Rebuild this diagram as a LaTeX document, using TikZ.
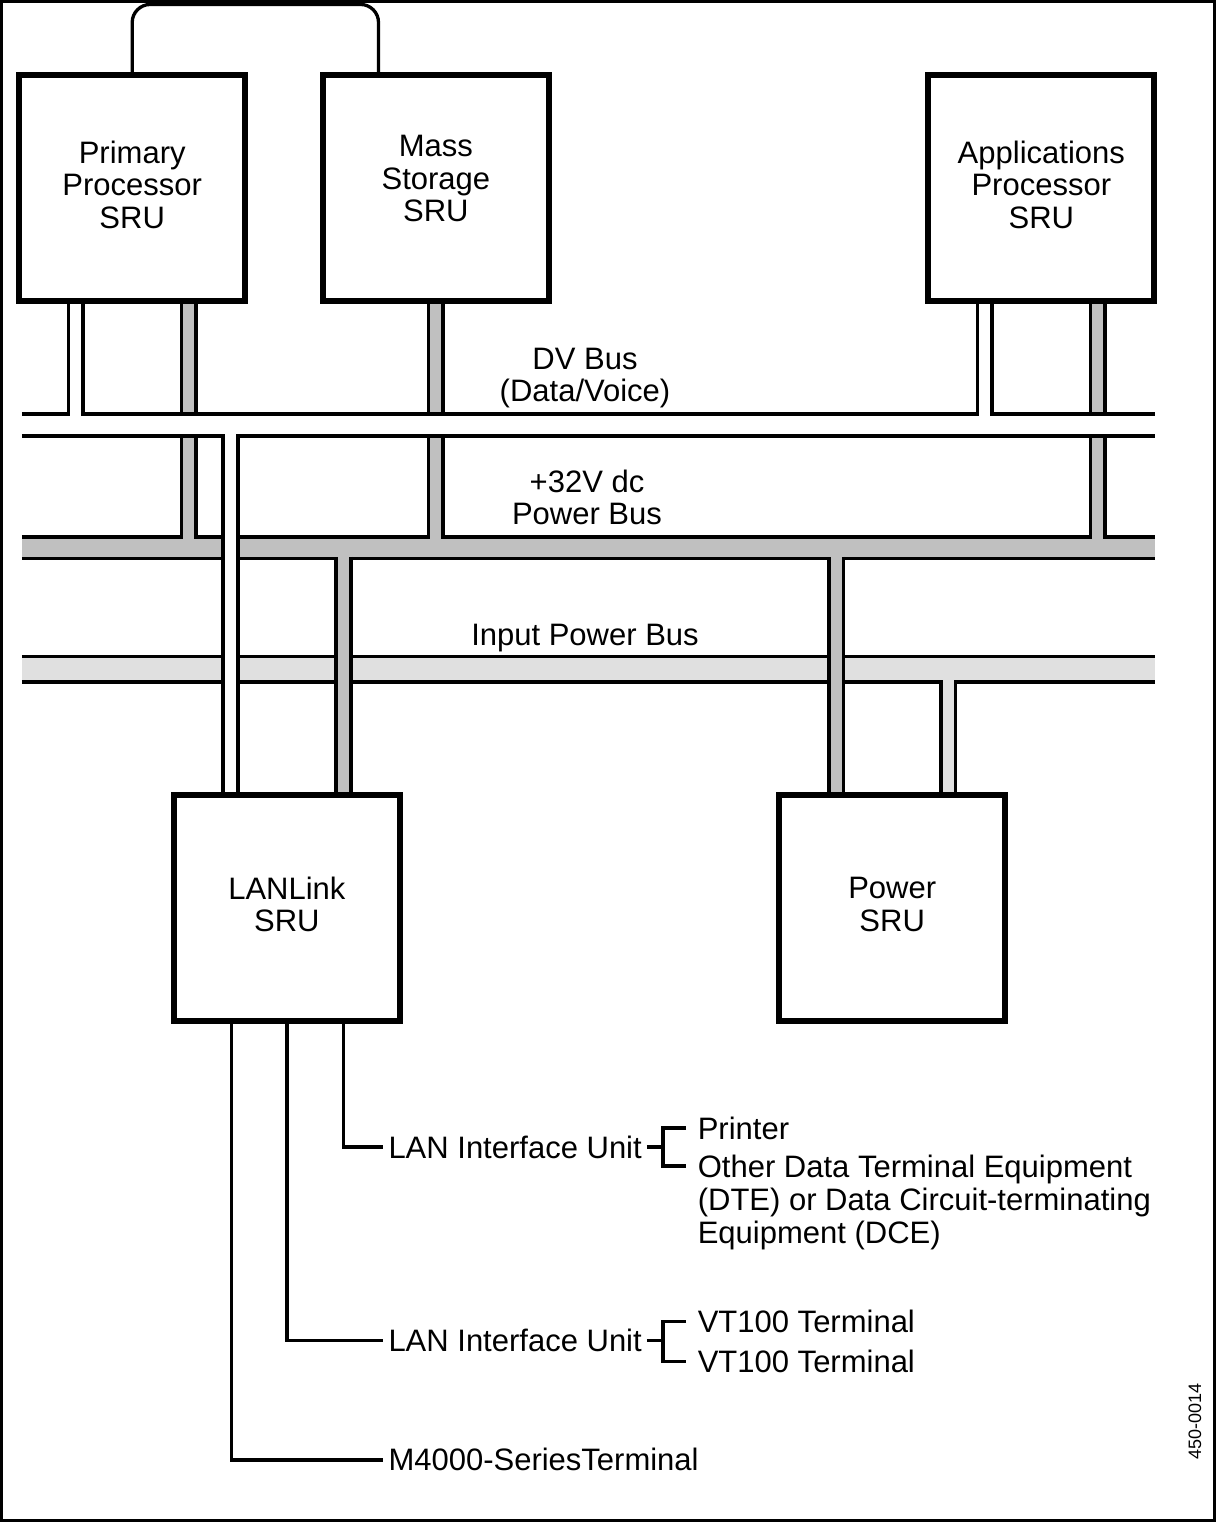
\documentclass[tikz,border=0pt]{standalone}
\usepackage{fontspec}
\setmainfont{Liberation Sans}
\usepackage{tikz}
\usetikzlibrary{positioning,backgrounds}
\definecolor{pwrgray}{RGB}{192,192,192}
\definecolor{inpgray}{RGB}{224,224,224}

\begin{document}
\begin{tikzpicture}[x=1pt,y=-1pt,
  sru/.style={draw,line width=6pt,fill=white,minimum width=226.3pt,minimum height=226.3pt,
              inner sep=0pt,align=center,text depth=7pt,font=\fontsize{31}{32.5}\selectfont},
  bus/.style={inner sep=0pt,minimum width=1133pt,draw=none},
  busedge/.style={line width=3.4pt},
  dvlink/.style={line width=3.6pt,double=white,double distance=11pt},
  pwlink/.style={line width=3.6pt,double=pwrgray,double distance=11pt},
  inlink/.style={line width=3.6pt,double=inpgray,double distance=11pt},
  wire/.style={line width=3.6pt},
  lbl/.style={font=\fontsize{31}{32.5}\selectfont,align=center,inner sep=0pt,text depth=0pt},
  txt/.style={font=\fontsize{31}{32.5}\selectfont,inner xsep=5pt,inner ysep=1pt,
              text height=22.2pt,text depth=0pt}
]
\useasboundingbox (0,0) rectangle (1216,1522);
\draw[line width=3.4pt] (1.7,1.7) rectangle (1214.3,1520.3);

% SRU boxes: top row at y=188, bottom row at y=908
\node[sru] (pp) at (132.2,188)  {Primary\\Processor\\SRU};
\node[sru,text depth=19pt] (ms) at (435.9,188) {Mass\\Storage\\SRU};
\node[sru] (ap) at (1041.3,188) {Applications\\Processor\\SRU};
\node[sru] (ll) at (286.9,908)  {LANLink\\SRU};
\node[sru] (pw) at (892.2,908)  {Power\\SRU};

% tap points on the boxes
\coordinate (ppdv) at ([xshift=-56.5pt]pp.south);
\coordinate (pppw) at ([xshift=56.5pt]pp.south);
\coordinate (mspw) at (ms.south);
\coordinate (apdv) at ([xshift=-56.5pt]ap.south);
\coordinate (appw) at ([xshift=56.5pt]ap.south);
\coordinate (lldv) at ([xshift=-56.5pt]ll.north);
\coordinate (llpw) at ([xshift=56.5pt]ll.north);
\coordinate (pwpw) at ([xshift=-56pt]pw.north);
\coordinate (pwin) at ([xshift=56pt]pw.north);
\coordinate (msl)  at ([xshift=-57.4pt]ms.north);

\begin{scope}[on background layer]
  % power buses first, DV bus goes over the power taps
  \node[bus,fill=pwrgray,minimum height=17.6pt] (pwr) at (588.5,547.8) {};
  \draw[busedge] ([yshift=1.7pt]pwr.north west) -- ([yshift=1.7pt]pwr.north east);
  \draw[busedge] ([yshift=-1.7pt]pwr.south west) -- ([yshift=-1.7pt]pwr.south east);
  \node[bus,fill=inpgray,minimum height=21.6pt] (inp) at (588.5,669.2) {};
  \draw[busedge] ([yshift=1.7pt]inp.north west) -- ([yshift=1.7pt]inp.north east);
  \draw[busedge] ([yshift=-1.7pt]inp.south west) -- ([yshift=-1.7pt]inp.south east);
  \draw[pwlink] (pppw) -- (pppw |- pwr.north);
  \draw[pwlink] (mspw) -- (mspw |- pwr.north);
  \draw[pwlink] (appw) -- (appw |- pwr.north);
  \node[bus,fill=white,minimum height=18.3pt] (dv) at (588.5,424.85) {};
  \draw[busedge] ([yshift=1.7pt]dv.north west) -- ([yshift=1.7pt]dv.north east);
  \draw[busedge] ([yshift=-1.7pt]dv.south west) -- ([yshift=-1.7pt]dv.south east);
  \draw[dvlink] (ppdv) -- (ppdv |- dv.north);
  \draw[dvlink] (apdv) -- (apdv |- dv.north);
  % down to LANLink and Power
  \draw[dvlink] (lldv |- dv.south) -- (lldv);
  \draw[pwlink] (llpw |- pwr.south) -- (llpw);
  \draw[pwlink] (pwpw |- pwr.south) -- (pwpw);
  \draw[inlink] (pwin |- inp.south) -- (pwin);
\end{scope}

% bus labels
\node[lbl,anchor=south] (dvlbl) at (585,402) {DV Bus\\(Data/Voice)};
\node[lbl,anchor=south] (pwlbl) at (587,525) {+32V dc\\Power Bus};
\node[lbl,anchor=base]  (inlbl) at (585,645) {Input Power Bus};

% link between primary processor and mass storage
\draw[line width=3.3pt,rounded corners=18pt] (pp.north) -- ++(0,-67.4) -| (msl);

% LANLink lines
\coordinate (ll1) at ([xshift=56.5pt]ll.south);
\coordinate (ll2) at (ll.south);
\coordinate (ll3) at ([xshift=-55.6pt]ll.south);
\node[txt,anchor=west] (liu1) at (383.3,1147)   {LAN Interface Unit};
\node[txt,anchor=west] (liu2) at (383.3,1340.3) {LAN Interface Unit};
\node[txt,anchor=west] (m4k)  at (383.3,1459.7) {M4000-SeriesTerminal};
\draw[wire] (ll1) |- (liu1.west);
\draw[wire] (ll2) |- (liu2.west);
\draw[wire] (ll3) |- (m4k.west);

% devices on the interface units
\node[txt,anchor=west,inner xsep=11.6pt] (prn) at (686,1128) {Printer};
\node[txt,anchor=west,inner xsep=11.6pt] (oth) at (686,1166) {Other Data Terminal Equipment};
\node[txt,anchor=west,inner xsep=11.6pt] (dte) at (686,1199) {(DTE) or Data Circuit-terminating};
\node[txt,anchor=west,inner xsep=11.6pt] (dce) at (686,1232) {Equipment (DCE)};
\coordinate (br1) at (663,1147);
\draw[wire] (liu1.east) -- (br1);
\draw[wire] (prn.west) -| (br1) |- (oth.west);

\node[txt,anchor=west,inner xsep=11.6pt] (vt1) at (686,1321.5) {VT100 Terminal};
\node[txt,anchor=west,inner xsep=11.6pt] (vt2) at (686,1361.5) {VT100 Terminal};
\coordinate (br2) at (663,1340.3);
\draw[wire] (liu2.east) -- (br2);
\draw[wire] (vt1.west) -| (br2) |- (vt2.west);

\node[font=\fontsize{18}{20}\selectfont,rotate=90] (ref) at (1195,1421) {450-0014};
\end{tikzpicture}
\end{document}
